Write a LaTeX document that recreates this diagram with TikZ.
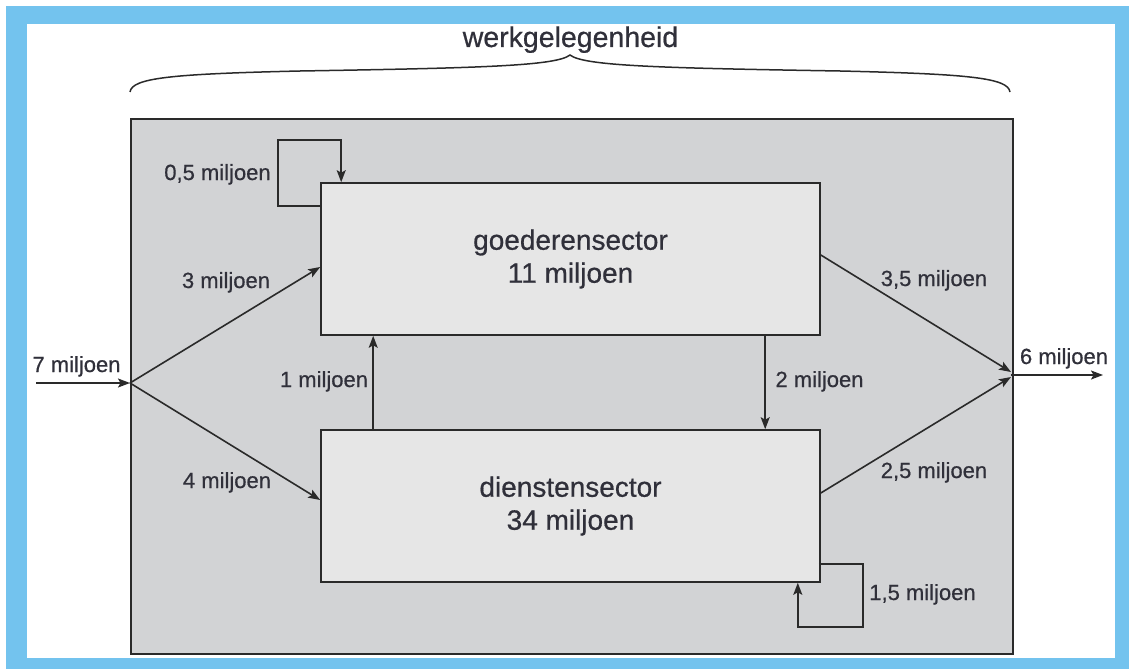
\documentclass[tikz,border=0pt]{standalone}
\usepackage{fontspec}
\setmainfont[FakeBold=0.6]{Liberation Sans}
\newfontfamily\lblfont[FakeBold=0.6]{Liberation Sans}
\usetikzlibrary{arrows.meta,calc}
\definecolor{frameblue}{HTML}{73C3EE}
\definecolor{areagrey}{HTML}{D2D3D5}
\definecolor{boxgrey}{HTML}{E6E6E6}
\definecolor{ink}{HTML}{2A2A2A}
\definecolor{txt}{HTML}{30303A}
\begin{document}
\begin{tikzpicture}[x=1pt,y=-1pt,
  flow/.style={draw=ink,line width=1.6pt,-{Stealth[length=12pt,width=9pt,inset=2.5pt]}},
  lbl/.style={font=\lblfont\fontsize{22}{24}\selectfont,text=txt,inner sep=0pt,anchor=base},
  sector/.style={draw=ink,line width=1.6pt,fill=boxgrey,minimum width=499pt,minimum height=152pt,
    inner sep=0pt,align=center,font=\fontsize{28}{33}\selectfont,text=txt},
  area/.style={draw=ink,line width=1.6pt,fill=areagrey,minimum width=882pt,minimum height=535pt,
    inner sep=0pt,anchor=north west},
  bracket/.style={draw=ink,line width=1.5pt},
  title/.style={font=\lblfont\fontsize{28.5}{30}\selectfont,text=txt,inner sep=0pt,anchor=base}
]
\useasboundingbox (0,0) rectangle (1129,669);
\fill[white] (0,0) rectangle (1129,669);
\fill[frameblue] (6,6) rectangle (1129,669);
\fill[white] (27,24) rectangle (1115,658);

% title and brace
\node[title] (ttl) at (570.5,47) {werkgelegenheid};
\coordinate (bl) at (130,92);
\coordinate (bt) at (570,55);
\coordinate (br) at (1010,92);
\draw[bracket] (bl) .. controls (132,78) and (170,74) .. (300,71)
  .. controls (480,68) and (556,66) .. (bt)
  .. controls (584,66) and (660,68) .. (840,71)
  .. controls (970,74) and (1008,78) .. (br);

% area
\node[area] (area) at (130,118) {};

% sectors
\node[sector] (goods) at (570.5,259) {goederensector\\11 miljoen};
\node[sector] (serv) at (570.5,506) {dienstensector\\34 miljoen};

% input
\coordinate (in) at (36,383);
\coordinate (split) at (130,383);
\draw[flow] (in) -- (split);
\node[lbl] (l7) at (76.5,372) {7 miljoen};

\draw[flow] (split) -- ($(goods.west)+(0,8)$);
\node[lbl] (l3) at (226,288) {3 miljoen};
\draw[flow] (split) -- ($(serv.west)+(0,-6)$);
\node[lbl] (l4) at (227,488) {4 miljoen};

% between sectors
\draw[flow] ($(serv.north west)+(53,0)$) -- ($(goods.south west)+(53,0)$);
\node[lbl] (l1) at (324,387) {1 miljoen};
\draw[flow] ($(goods.south west)+(445,0)$) -- ($(serv.north west)+(445,0)$);
\node[lbl] (l2) at (819.5,387) {2 miljoen};

% output
\coordinate (merge) at (1011,375);
\coordinate (out) at (1103,375);
\draw[flow] ($(goods.east)+(0,-4)$) -- ($(merge)+(0,-3)$);
\node[lbl] (l35) at (934,286) {3,5 miljoen};
\draw[flow] ($(serv.east)+(0,-13)$) -- ($(merge)+(0,2)$);
\node[lbl] (l25) at (934,478) {2,5 miljoen};
\draw[flow] (merge) -- (out);
\node[lbl] (l6) at (1064,364) {6 miljoen};

% loops
\draw[flow] ($(goods.north west)+(0,24)$) -| ($(goods.north west)+(-42,-42)$) -| ($(goods.north west)+(21,0)$);
\node[lbl] (l05) at (217.5,180) {0,5 miljoen};
\draw[flow] ($(serv.south east)+(-2,-19)$) -| ($(serv.south east)+(42,44)$) -| ($(serv.south east)+(-23,0)$);
\node[lbl] (l15) at (922.5,600) {1,5 miljoen};
\end{tikzpicture}
\end{document}
